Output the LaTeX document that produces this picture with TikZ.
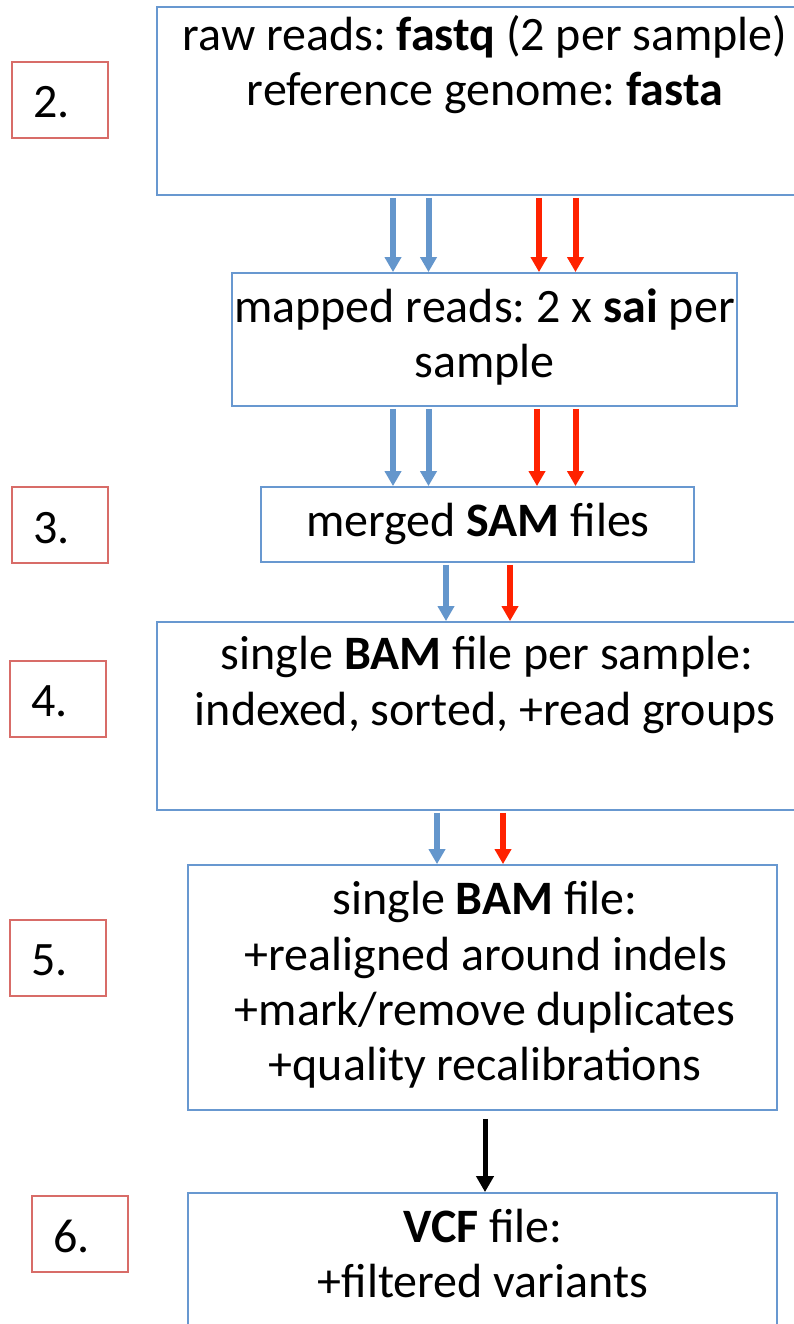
\documentclass[tikz,border=0pt]{standalone}
\usepackage{fontspec}
\setmainfont{Carlito}
\usetikzlibrary{arrows.meta}
\definecolor{boxblue}{RGB}{104,152,208}
\definecolor{arrblue}{RGB}{100,150,204}
\definecolor{arrred}{RGB}{255,34,0}
\definecolor{labred}{RGB}{216,108,104}
\frenchspacing
\tikzset{
  mainbox/.style={draw=boxblue, line width=1.8pt, fill=none, inner sep=0pt, rectangle},
  labbox/.style={draw=labred, line width=2pt, fill=none, inner sep=0pt, rectangle, minimum width=96pt, minimum height=76pt},
  txt/.style={inner sep=0pt, anchor=base, font=\fontsize{48}{55}\selectfont},
  labtxt/.style={inner sep=0pt, anchor=base west, font=\fontsize{48}{55}\selectfont},
  flow/.style={line width=6pt, -{Triangle[width=16pt,length=15pt]}, shorten <=2pt},
  bflow/.style={flow, draw=arrblue},
  rflow/.style={flow, draw=arrred},
  kflow/.style={line width=5pt, -{Triangle[width=17pt,length=16pt]}, draw=black, shorten <=8pt}
}
\begin{document}
\begin{tikzpicture}[x=1pt,y=-1pt]
\useasboundingbox (0,0) rectangle (794,1324);
\clip (0,0) rectangle (794,1324);
\fill[white] (0,0) rectangle (794,1324);

% main boxes
\node[mainbox, minimum width=655pt, minimum height=188pt] (b1) at (484.5,101) {};
\node[mainbox, minimum width=505pt, minimum height=133pt] (b2) at (484.5,339.5) {};
\node[mainbox, minimum width=433pt, minimum height=75pt] (b3) at (477.5,524.5) {};
\node[mainbox, minimum width=655pt, minimum height=188pt] (b4) at (484.5,716) {};
\node[mainbox, minimum width=589pt, minimum height=245pt] (b5) at (482.5,987.5) {};
\node[mainbox, minimum width=589pt, minimum height=160pt] (b6) at (482.5,1273) {};

% texts
\node[txt] (t1a) at (485,51) {raw reads: \textbf{fastq} (2 per sample)};
\node[txt] (t1b) at (485,106) {reference genome: \textbf{fasta}};
\node[txt] (t2a) at (484.5,322) {mapped reads: 2 x \textbf{sai} per};
\node[txt] (t2b) at (484.5,377) {sample};
\node[txt] (t3a) at (478,536) {merged \textbf{SAM} files};
\node[txt] (t4a) at (487,669) {single \textbf{BAM} file per sample:};
\node[txt] (t4b) at (485,725) {indexed, sorted, +read groups};
\node[txt] (t5a) at (485,914) {single \textbf{BAM} file:};
\node[txt] (t5b) at (486,970) {+realigned around indels};
\node[txt] (t5c) at (485,1025) {+mark/remove duplicates};
\node[txt] (t5d) at (485,1080) {+quality recalibrations};
\node[txt] (t6a) at (483,1242) {\textbf{VCF} file:};
\node[txt] (t6b) at (483,1297) {+filtered variants};

% step labels
\node[labbox] (l2) at (60,100) {};
\node[labtxt] (l2t) at (33,118) {2.};
\node[labbox] (l3) at (60,525) {};
\node[labtxt] (l3t) at (33,543) {3.};
\node[labbox] (l4) at (58,698.5) {};
\node[labtxt] (l4t) at (31,716) {4.};
\node[labbox] (l5) at (58,957.5) {};
\node[labtxt] (l5t) at (31,975) {5.};
\node[labbox] (l6) at (80,1233.5) {};
\node[labtxt] (l6t) at (53,1252) {6.};

% arrow columns
\coordinate (c1) at (393,0);
\coordinate (c2) at (428.5,0);
\coordinate (c3) at (539,0);
\coordinate (c4) at (575.5,0);
\coordinate (c5) at (537,0);
\coordinate (c6) at (446,0);
\coordinate (c7) at (510,0);
\coordinate (c8) at (437,0);
\coordinate (c9) at (503,0);
\coordinate (c10) at (485,0);

\draw[bflow] (b1.south -| c1) -- (b2.north -| c1);
\draw[bflow] (b1.south -| c2) -- (b2.north -| c2);
\draw[rflow] (b1.south -| c3) -- (b2.north -| c3);
\draw[rflow] (b1.south -| c4) -- (b2.north -| c4);

\draw[bflow] (b2.south -| c1) -- (b3.north -| c1);
\draw[bflow] (b2.south -| c2) -- (b3.north -| c2);
\draw[rflow] (b2.south -| c5) -- (b3.north -| c5);
\draw[rflow] (b2.south -| c4) -- (b3.north -| c4);

\draw[bflow] (b3.south -| c6) -- (b4.north -| c6);
\draw[rflow] (b3.south -| c7) -- (b4.north -| c7);

\draw[bflow] (b4.south -| c8) -- (b5.north -| c8);
\draw[rflow] (b4.south -| c9) -- (b5.north -| c9);

\draw[kflow] (b5.south -| c10) -- (b6.north -| c10);
\end{tikzpicture}
\end{document}
